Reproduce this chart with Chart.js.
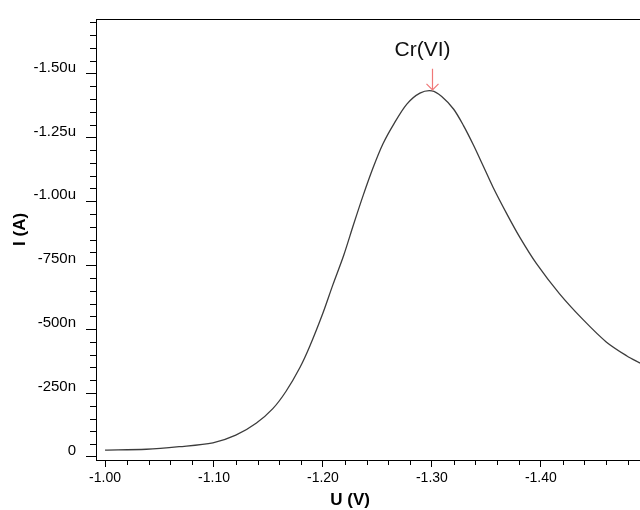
<!DOCTYPE html>
<html>
<head>
<meta charset="utf-8">
<script src="https://cdn.jsdelivr.net/npm/chart.js@4"></script>
<style>
  body { margin: 0; background: #fff; }
  canvas { display: block; }
</style>
</head>
<body>
<canvas id="vaChart" width="640" height="510"></canvas>
<script>
// potential (V) and current (uA)
const voltage = [-1.000, -1.038, -1.068, -1.099, -1.120, -1.139, -1.154, -1.166, -1.179, -1.188,
                 -1.200, -1.209, -1.219, -1.228, -1.237, -1.246, -1.255, -1.265, -1.277, -1.289,
                 -1.300, -1.309, -1.320, -1.329, -1.338, -1.347, -1.356, -1.369, -1.381, -1.396,
                 -1.417, -1.439, -1.460, -1.479, -1.491];
const currentMicroA = [-0.027, -0.030, -0.040, -0.055, -0.085, -0.133, -0.189, -0.256, -0.351, -0.434,
                       -0.563, -0.672, -0.788, -0.908, -1.024, -1.131, -1.224, -1.302, -1.380, -1.423,
                       -1.432, -1.410, -1.360, -1.296, -1.221, -1.139, -1.056, -0.949, -0.857, -0.756,
                       -0.639, -0.536, -0.450, -0.395, -0.367];
const peakLabel = 'Cr(VI)';
const xTitle = 'U (V)';
const yTitle = 'I (A)';
const xMajorStep = 0.1, xMinorStep = 0.02;
const yMajorStep = 0.25, yMinorStep = 0.05;

const FONT = "'Liberation Sans', Arial, sans-serif";

function formatCurrent(v) {
    const n = Math.round(v * 1000); // nA
    if (n === 0) return '0';
    if (Math.abs(n) >= 1000) return (n / 1000).toFixed(2) + 'u';
    return n + 'n';
}

// minor tick marks + top frame line + axis titles
const frameTicks = {
    id: 'frameTicks',
    afterDraw(chart) {
        const { ctx, chartArea: a, scales: { x, y } } = chart;
        ctx.save();
        ctx.strokeStyle = '#000';
        ctx.lineWidth = 1;
        ctx.beginPath();
        ctx.moveTo(a.left, a.top + 0.5);
        ctx.lineTo(a.right, a.top + 0.5);
        // y minor ticks
        for (let k = 0; k * yMinorStep <= -y.min + 1e-9; k++) {
            if (k % 5 === 0) continue;
            const py = Math.round(y.getPixelForValue(-k * yMinorStep)) + 0.5;
            ctx.moveTo(a.left - 6, py);
            ctx.lineTo(a.left, py);
        }
        // x minor ticks
        for (let k = 0; -1 - k * xMinorStep >= x.min; k++) {
            if (k % 5 === 0) continue;
            const px = Math.round(x.getPixelForValue(-1 - k * xMinorStep)) + 0.5;
            ctx.moveTo(px, a.bottom);
            ctx.lineTo(px, a.bottom + 5);
        }
        ctx.stroke();

        ctx.fillStyle = '#000';
        ctx.font = 'bold 17px ' + FONT;
        ctx.textAlign = 'center';
        ctx.textBaseline = 'middle';
        ctx.fillText(xTitle, x.getPixelForValue(-1.225), 500);
        ctx.translate(20, y.getPixelForValue(-0.89));
        ctx.rotate(-Math.PI / 2);
        ctx.fillText(yTitle, 0, 0);
        ctx.restore();
    }
};

// peak marker: red arrow + label
const peakMarker = {
    id: 'peakMarker',
    afterDatasetsDraw(chart) {
        const { ctx, scales: { x, y } } = chart;
        let iPeak = 0;
        currentMicroA.forEach((v, i) => { if (v < currentMicroA[iPeak]) iPeak = i; });
        const px = Math.round(x.getPixelForValue(voltage[iPeak])) + 0.5;
        const py = y.getPixelForValue(currentMicroA[iPeak]);
        ctx.save();
        ctx.strokeStyle = '#f07878';
        ctx.lineWidth = 1.2;
        ctx.beginPath();
        ctx.moveTo(px, py - 22);
        ctx.lineTo(px, py - 1);
        ctx.moveTo(px - 6, py - 7);
        ctx.lineTo(px, py - 1);
        ctx.lineTo(px + 6, py - 7);
        ctx.stroke();
        ctx.fillStyle = '#111';
        ctx.font = '21px ' + FONT;
        ctx.textAlign = 'center';
        ctx.textBaseline = 'alphabetic';
        ctx.fillText(peakLabel, px - 10, py - 35);
        ctx.restore();
    }
};

const ctx = document.getElementById('vaChart').getContext('2d');
new Chart(ctx, {
    type: 'line',
    data: {
        datasets: [{
            data: voltage.map((u, i) => ({ x: u, y: currentMicroA[i] })),
            borderColor: '#3c3c3c',
            borderWidth: 1.3,
            fill: false,
            tension: 0.3,
            pointRadius: 0
        }]
    },
    options: {
        responsive: false,
        animation: false,
        events: [],
        layout: { padding: { top: 15, right: 0, left: 0, bottom: 0 } },
        plugins: {
            legend: { display: false },
            tooltip: { enabled: false }
        },
        scales: {
            x: {
                type: 'linear',
                reverse: true,
                min: -1.491,
                max: -0.9917,
                afterFit: scale => { scale.height = 50; },
                border: { display: true, color: '#000', width: 1 },
                grid: { drawOnChartArea: false, drawTicks: true, tickLength: 7, color: '#000' },
                ticks: {
                    stepSize: xMajorStep,
                    includeBounds: false,
                    autoSkip: false,
                    maxRotation: 0,
                    padding: 3,
                    color: '#000',
                    font: { family: FONT, size: 14 },
                    callback: v => v.toFixed(2)
                }
            },
            y: {
                type: 'linear',
                reverse: true,
                min: -1.713,
                max: 0.012,
                afterFit: scale => { scale.width = 96; },
                border: { display: true, color: '#000', width: 1 },
                grid: { drawOnChartArea: false, drawTicks: true, tickLength: 10, color: '#000' },
                ticks: {
                    stepSize: yMajorStep,
                    includeBounds: false,
                    autoSkip: false,
                    padding: 10,
                    labelOffset: -6,
                    color: '#000',
                    font: { family: FONT, size: 15 },
                    callback: v => formatCurrent(v)
                }
            }
        }
    },
    plugins: [frameTicks, peakMarker]
});
</script>
</body>
</html>
